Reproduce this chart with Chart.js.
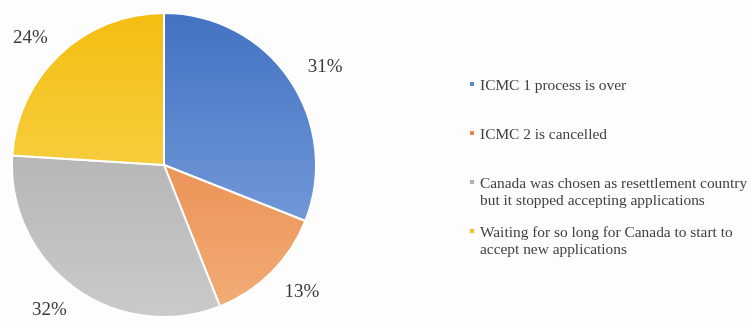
<!DOCTYPE html>
<html>
<head>
<meta charset="utf-8">
<script src="https://cdn.jsdelivr.net/npm/chart.js@4.4.1/dist/chart.umd.min.js"></script>
<style>
  html, body { margin: 0; padding: 0; background: #fdfdfd; }
  #wrap { position: relative; width: 750px; height: 321px; overflow: hidden; }
  #pieChart { position: absolute; left: 0; top: 0; }
  #legend { position: absolute; left: 0; top: 0; width: 750px; height: 321px; pointer-events: none;
    font-family: "Liberation Serif", "Times New Roman", serif; font-size: 15.4px; color: #404040; }
  .item { position: absolute; left: 480px; line-height: 17px; white-space: nowrap; }
  .mark { position: absolute; left: -10px; top: 6px; width: 4px; height: 4px; }
</style>
</head>
<body>
<div id="wrap">
  <canvas id="pieChart" width="750" height="321"></canvas>
  <div id="legend"></div>
</div>
<script>
// answers, shares in percent
const labels = [
  ['ICMC 1 process is over'],
  ['ICMC 2 is cancelled'],
  ['Canada was chosen as resettlement country', 'but it stopped accepting applications'],
  ['Waiting for so long for Canada to start to', 'accept new applications']
];
const shares = [31, 13, 32, 24];

// flat colour for legend markers, top/bottom shades for the slices
const markColors = ['#5a85cd', '#ea8a48', '#b3b3b3', '#f3c228'];
const topShades = ['#4272c2', '#e27b36', '#a5a5a5', '#f4be10'];
const bottomShades = ['#86a9e2', '#f3ad78', '#cacaca', '#f9db6a'];

const legendTops = [76, 125, 174, 223];

function sliceFill(context) {
  const chart = context.chart;
  const area = chart.chartArea;
  if (!area) return markColors[context.dataIndex];
  const g = chart.ctx.createLinearGradient(0, area.top, 0, area.bottom);
  g.addColorStop(0, topShades[context.dataIndex]);
  g.addColorStop(1, bottomShades[context.dataIndex]);
  return g;
}

// percentage labels placed just outside each slice (wider gap sideways)
const outsideLabels = {
  id: 'outsideLabels',
  afterDatasetsDraw(chart) {
    const ctx = chart.ctx;
    const meta = chart.getDatasetMeta(0);
    ctx.save();
    ctx.font = '19px "Liberation Serif", "Times New Roman", serif';
    ctx.fillStyle = '#3a3a3a';
    ctx.textAlign = 'center';
    ctx.textBaseline = 'middle';
    meta.data.forEach((arc, i) => {
      const p = arc.getProps(['x', 'y', 'startAngle', 'endAngle', 'outerRadius'], true);
      const mid = (p.startAngle + p.endAngle) / 2;
      const rx = p.outerRadius + 43;
      const ry = p.outerRadius + 25;
      ctx.fillText(shares[i] + '%', p.x + Math.cos(mid) * rx, p.y + Math.sin(mid) * ry + 2);
    });
    ctx.restore();
  }
};

new Chart(document.getElementById('pieChart'), {
  type: 'pie',
  data: {
    labels: labels.map(l => l.join(' ')),
    datasets: [{
      data: shares,
      backgroundColor: sliceFill,
      borderColor: '#ffffff',
      borderWidth: 2
    }]
  },
  options: {
    responsive: false,
    animation: false,
    layout: { padding: { left: 11, top: 12, right: 433, bottom: 3 } },
    plugins: {
      legend: { display: false },
      tooltip: { enabled: false }
    }
  },
  plugins: [outsideLabels]
});

const legend = document.getElementById('legend');
labels.forEach((lines, i) => {
  const item = document.createElement('div');
  item.className = 'item';
  item.style.top = legendTops[i] + 'px';
  const mark = document.createElement('span');
  mark.className = 'mark';
  mark.style.background = markColors[i];
  item.appendChild(mark);
  lines.forEach((line, j) => {
    if (j > 0) item.appendChild(document.createElement('br'));
    item.appendChild(document.createTextNode(line));
  });
  legend.appendChild(item);
});
</script>
</body>
</html>
